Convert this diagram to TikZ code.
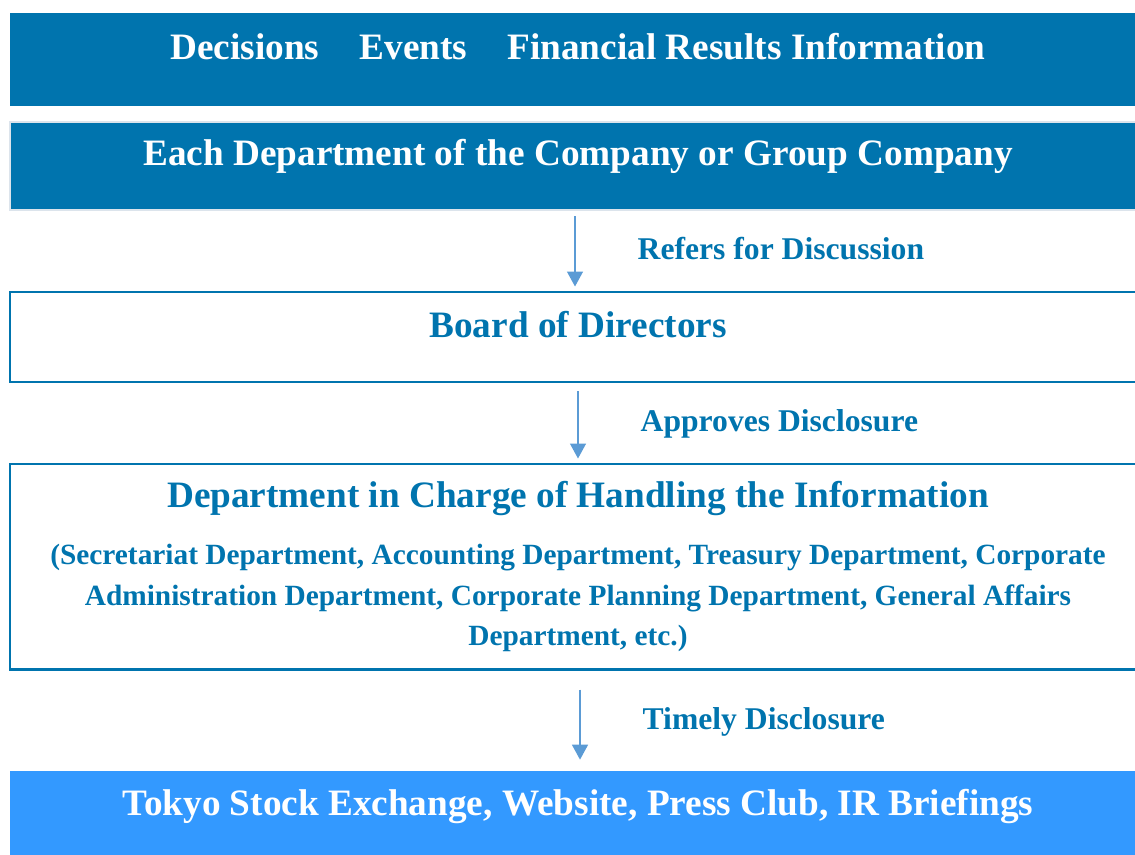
\documentclass[tikz,border=0pt]{standalone}
\usepackage{fontspec}
\setmainfont{Liberation Serif}
\usetikzlibrary{arrows.meta}
\definecolor{navyblue}{RGB}{0,116,174}
\definecolor{arrowblue}{RGB}{91,155,213}
\definecolor{skyblue}{RGB}{51,153,255}
\definecolor{edgegray}{RGB}{220,228,236}
\begin{document}
\begin{tikzpicture}[band/.style={minimum width=22.72cm,inner sep=0pt,
      font=\fontsize{21.2}{25}\selectfont\bfseries,text height=0.4cm,text depth=0.4cm},
    darkbar/.style={band,fill=navyblue,text=white},
    lightbar/.style={band,fill=skyblue,text=white},
    outlinebar/.style={band,draw=navyblue,line width=1.7pt,text=navyblue},
    flow/.style={draw=arrowblue,line width=0.8pt,-{Triangle[width=0.32cm,length=0.3cm]}},
    note/.style={font=\fontsize{18}{22}\selectfont\bfseries,text=navyblue,inner sep=0pt,
      text height=0.45cm,text depth=0.1cm}]
  \useasboundingbox (0,0) rectangle (22.7,-17.1);
  \clip (0,0) rectangle (22.7,-17.1);

    \node[darkbar,minimum height=1.86cm] (source) at (11.56,-1.19)
      {Decisions\hspace{1.08em}Events\hspace{1.08em}Financial Results Information};
    \node[darkbar,minimum height=1.76cm,draw=edgegray,line width=1.2pt] (dept) at (11.56,-3.32)
      {Each Department of the Company or Group Company};
    \node[outlinebar,minimum height=4.1cm,align=center,
      font=\fontsize{16.7}{22.8}\selectfont\bfseries,text height=,text depth=]
      (handler) at (11.56,-11.33)
      {{\fontsize{21.2}{25}\selectfont Department in Charge of Handling the Information}\\[0.34cm]
       (Secretariat Department, Accounting Department, Treasury Department, Corporate\\
       Administration Department, Corporate Planning Department, General Affairs\\
       Department, etc.)};
    \node[outlinebar,minimum height=1.8cm] (board) at (11.56,-6.74) {Board of Directors};
    \node[lightbar,minimum height=1.76cm] (public) at (11.56,-16.3)
      {Tokyo Stock Exchange, Website, Press Club, IR Briefings};

    \foreach \a/\b/\s/\p/\q/\t in {dept/board/-0.06/0.1/0.08/Refers for Discussion,
      board/handler/0/0.16/0.08/Approves Disclosure,
      handler/public/0.04/0.38/0.22/Timely Disclosure} {
      \draw[flow,shorten <=\p cm,shorten >=\q cm] ([xshift=\s cm]\a.south)
        -- node[note,right=1.24cm] (step-\a) {\t} ([xshift=\s cm]\b.north);
    }

  \end{tikzpicture}
\end{document}
